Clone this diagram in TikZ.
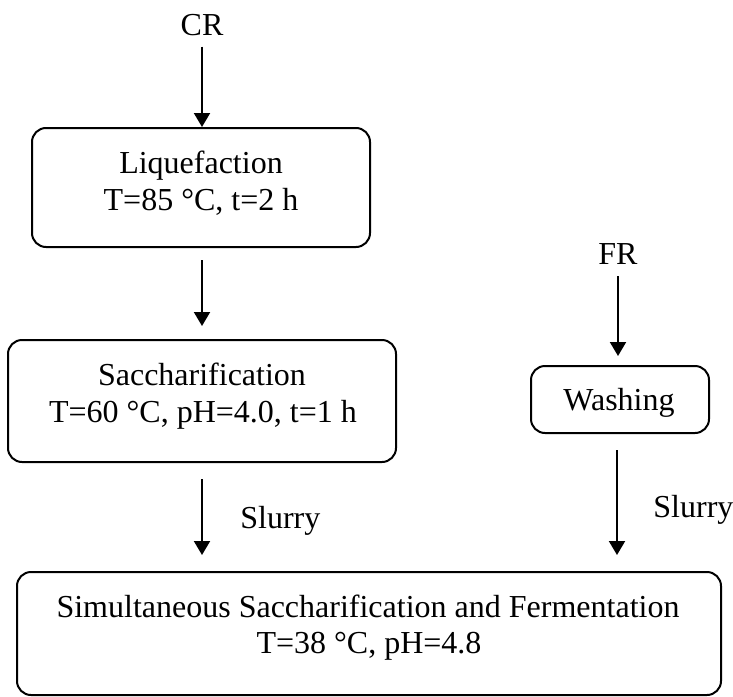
\documentclass[tikz,border=0pt]{standalone}
\usepackage{fontspec}
\setmainfont{Liberation Serif}
\usetikzlibrary{arrows.meta}
\begin{document}
\begin{tikzpicture}[x=0.5pt,y=-0.5pt,
  box/.style={draw, line width=1pt, rounded corners=7pt, inner sep=0pt},
  txt/.style={anchor=base, inner sep=0pt, font=\fontsize{16}{19}\selectfont},
  flow/.style={-{Triangle[length=7pt,width=8pt]}, line width=1pt}]
\useasboundingbox (0,0) rectangle (733,696);
% boxes
\node[box, minimum width=169pt, minimum height=59.5pt] (liq) at (201,187.5) {};
\node[box, minimum width=194pt, minimum height=61pt] (sacc) at (202,401) {};
\node[box, minimum width=89pt, minimum height=33.5pt] (wash) at (620,399.5) {};
\node[box, minimum width=352pt, minimum height=61.5pt] (ssf) at (369,633.5) {};
% texts
\node[txt] (cr) at (202,35) {CR};
\node[txt] (fr) at (618,264) {FR};
\node[txt] (liq1) at (201,173) {Liquefaction};
\node[txt] (liq2) at (201,210) {T=85 °C, t=2 h};
\node[txt] (sacc1) at (202,385) {Saccharification};
\node[txt] (sacc2) at (203,422) {T=60 °C, pH=4.0, t=1 h};
\node[txt] (wash1) at (619,410) {Washing};
\node[txt] (ssf1) at (368,617) {Simultaneous Saccharification and Fermentation};
\node[txt] (ssf2) at (369,653) {T=38 °C, pH=4.8};
\node[txt, anchor=base west] (s1) at (240,528) {Slurry};
\node[txt, anchor=base west] (s2) at (653,517) {Slurry};
% connectors
\draw[flow, shorten <=5.5pt] (cr.south) -- (cr.south |- liq.north);
\draw[flow, shorten <=6pt, shorten >=6.5pt] (cr.south |- liq.south) -- (cr.south |- sacc.north);
\draw[flow, shorten <=8pt, shorten >=8pt] (cr.south |- sacc.south) -- (cr.south |- ssf.north);
\draw[flow, shorten <=6pt, shorten >=4.5pt] (fr.south) -- (fr.south |- wash.north);
\draw[flow, shorten <=8pt, shorten >=8pt] ([xshift=-0.5pt]fr.south |- wash.south) -- ([xshift=-0.5pt]fr.south |- ssf.north);
\end{tikzpicture}
\end{document}
